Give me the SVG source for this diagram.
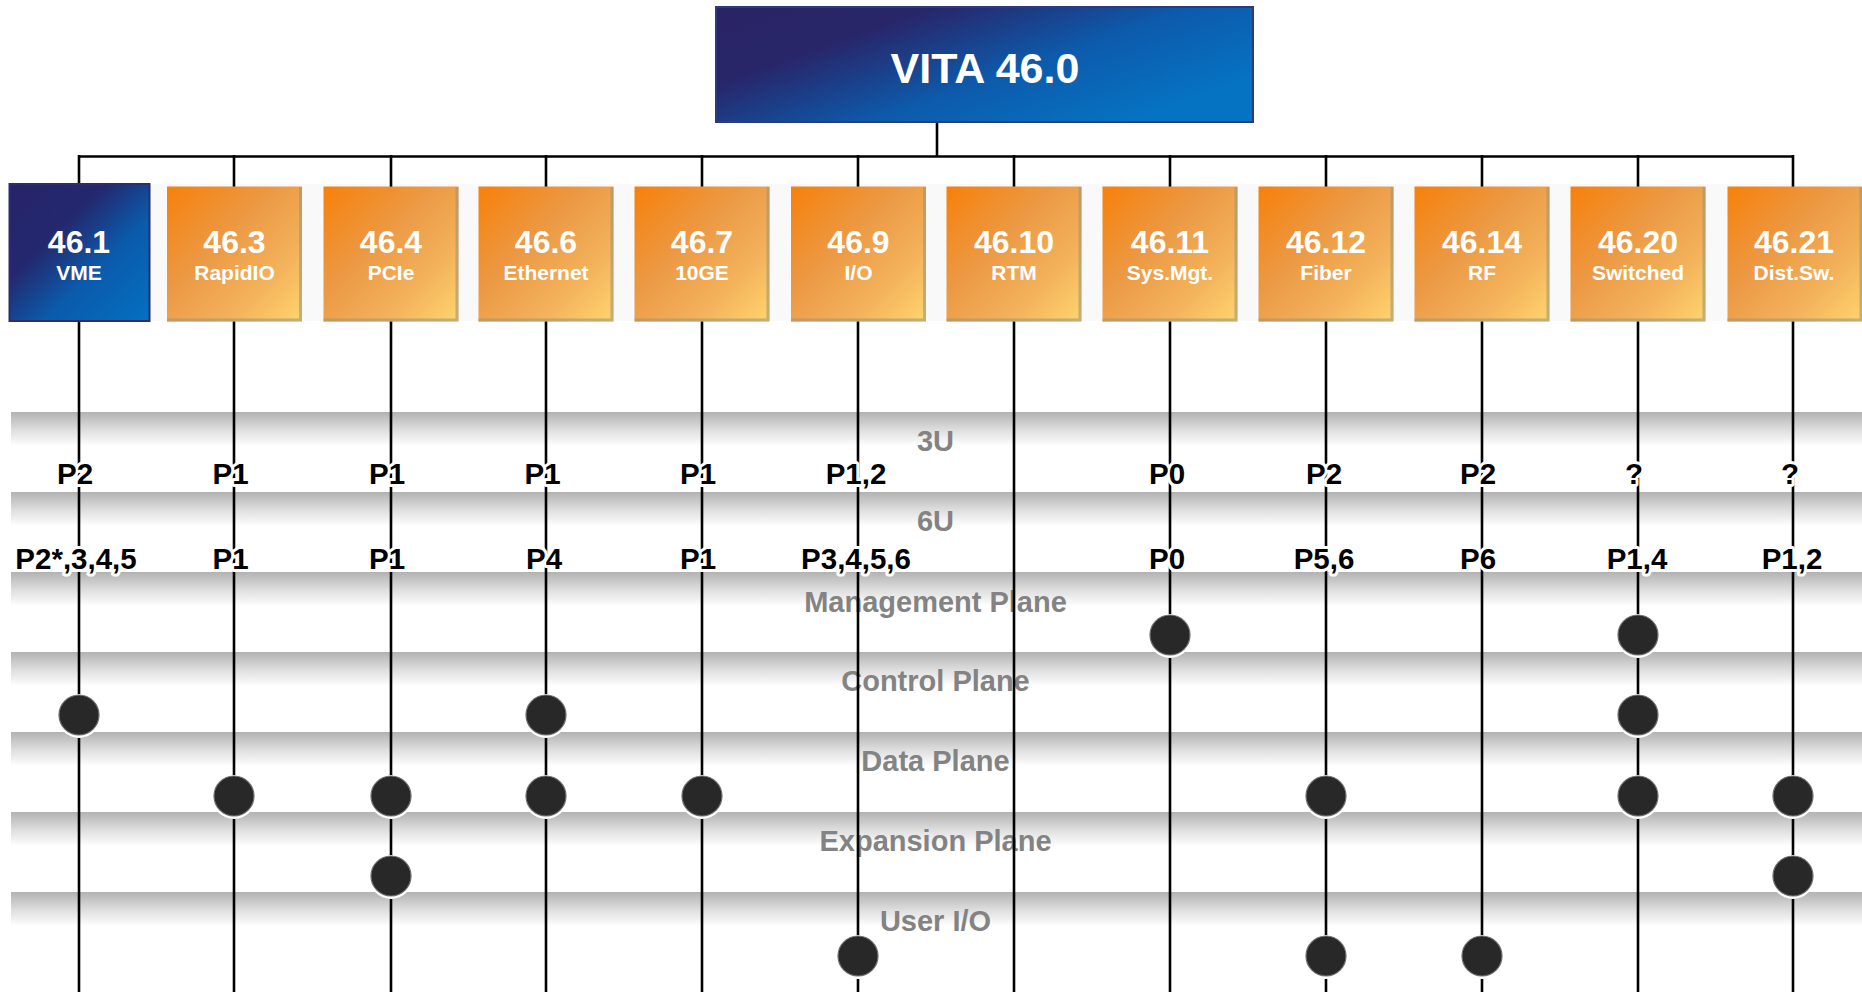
<svg xmlns="http://www.w3.org/2000/svg" width="1862" height="992" viewBox="0 0 1862 992">
<defs>
<linearGradient id="band" x1="0" y1="0" x2="0" y2="1">
<stop offset="0" stop-color="#b2b2b2"/>
<stop offset="0.5" stop-color="#dcdcdc"/>
<stop offset="1" stop-color="#ffffff"/>
</linearGradient>
<linearGradient id="orange" x1="0" y1="0" x2="1" y2="1">
<stop offset="0" stop-color="#f7800a"/>
<stop offset="0.4" stop-color="#ec9944"/>
<stop offset="0.72" stop-color="#f3b25b"/>
<stop offset="1" stop-color="#ffd56d"/>
</linearGradient>
<linearGradient id="blueBox" x1="0" y1="0" x2="1" y2="1">
<stop offset="0" stop-color="#27226a"/>
<stop offset="0.35" stop-color="#23296f"/>
<stop offset="0.62" stop-color="#0b5aab"/>
<stop offset="1" stop-color="#0470c2"/>
</linearGradient>
<linearGradient id="blueTitle" x1="0" y1="0" x2="1" y2="0.6">
<stop offset="0" stop-color="#2a2365"/>
<stop offset="0.3" stop-color="#28266a"/>
<stop offset="0.65" stop-color="#0d5aab"/>
<stop offset="1" stop-color="#0672c2"/>
</linearGradient>
</defs>
<style>
.band{fill:url(#band)}
.plane{font-family:"Liberation Sans",Arial,sans-serif;font-weight:bold;font-size:29px;fill:#838383;text-anchor:middle}
.pin{font-family:"Liberation Sans",Arial,sans-serif;font-weight:bold;font-size:29.5px;fill:#000;text-anchor:middle;stroke:#fff;stroke-width:6;stroke-linejoin:round;paint-order:stroke}
.wire{stroke:#000;stroke-width:2.6;fill:none}
.obox{fill:url(#orange)}
.edge{fill:none;stroke:#a09478;stroke-width:3;stroke-opacity:0.6}
.num{font-family:"Liberation Sans",Arial,sans-serif;font-weight:bold;font-size:32px;fill:#fff;text-anchor:middle}
.sub{font-family:"Liberation Sans",Arial,sans-serif;font-weight:bold;font-size:21px;fill:#fff;text-anchor:middle}
.halo{fill:#fff}
.dot{fill:#282828;stroke:#6e6e6e;stroke-width:1.2}
</style>
<rect width="1862" height="992" fill="#fff"/>
<g id="bands">
<rect class="band" x="11" y="412" width="1851" height="34"/>
<rect class="band" x="11" y="492" width="1851" height="34"/>
<rect class="band" x="11" y="572" width="1851" height="34"/>
<rect class="band" x="11" y="652" width="1851" height="34"/>
<rect class="band" x="11" y="732" width="1851" height="34"/>
<rect class="band" x="11" y="812" width="1851" height="34"/>
<rect class="band" x="11" y="892" width="1851" height="34"/>
</g>
<g id="plane-labels">
<text class="plane" x="935.5" y="451">3U</text>
<text class="plane" x="935.5" y="531">6U</text>
<text class="plane" x="935.5" y="611.5">Management Plane</text>
<text class="plane" x="935.5" y="691">Control Plane</text>
<text class="plane" x="935.5" y="771">Data Plane</text>
<text class="plane" x="935.5" y="851">Expansion Plane</text>
<text class="plane" x="935.5" y="931">User I/O</text>
</g>
<rect x="9" y="184" width="1853" height="137" fill="#f9f9f9"/>
<g id="connectors">
<line class="wire" x1="937" y1="122" x2="937" y2="157"/>
<line class="wire" x1="78" y1="156.5" x2="1794" y2="156.5" stroke-width="3"/>
<line class="wire" x1="79" y1="155" x2="79" y2="992"/>
<line class="wire" x1="234" y1="155" x2="234" y2="992"/>
<line class="wire" x1="391" y1="155" x2="391" y2="992"/>
<line class="wire" x1="546" y1="155" x2="546" y2="992"/>
<line class="wire" x1="702" y1="155" x2="702" y2="992"/>
<line class="wire" x1="858" y1="155" x2="858" y2="992"/>
<line class="wire" x1="1014" y1="155" x2="1014" y2="992"/>
<line class="wire" x1="1170" y1="155" x2="1170" y2="992"/>
<line class="wire" x1="1326" y1="155" x2="1326" y2="992"/>
<line class="wire" x1="1482" y1="155" x2="1482" y2="992"/>
<line class="wire" x1="1638" y1="155" x2="1638" y2="992"/>
<line class="wire" x1="1793" y1="155" x2="1793" y2="992"/>
</g>
<g id="vita-46-0">
<rect x="716" y="7" width="537" height="115" fill="url(#blueTitle)" stroke="#2c3a7e" stroke-width="2"/>
<text x="985" y="83" font-family="Liberation Sans, Arial, sans-serif" font-weight="bold" font-size="43" fill="#fff" text-anchor="middle">VITA 46.0</text>
</g>
<g id="vita-46-1">
<rect x="9.5" y="184" width="140" height="137" fill="url(#blueBox)" stroke="#2b2d6c" stroke-width="2"/>
<text class="num" x="79" y="253">46.1</text>
<text class="sub" x="79" y="280">VME</text>
</g>
<g id="vita-46-3">
<rect class="obox" x="167" y="186.5" width="135" height="135"/>
<path class="edge" d="M300.5 187V320H167"/>
<text class="num" x="234.5" y="253">46.3</text>
<text class="sub" x="234.5" y="280">RapidIO</text>
</g>
<g id="vita-46-4">
<rect class="obox" x="323.5" y="186.5" width="135" height="135"/>
<path class="edge" d="M457 187V320H323.5"/>
<text class="num" x="391" y="253">46.4</text>
<text class="sub" x="391" y="280">PCIe</text>
</g>
<g id="vita-46-6">
<rect class="obox" x="478.5" y="186.5" width="135" height="135"/>
<path class="edge" d="M612 187V320H478.5"/>
<text class="num" x="546" y="253">46.6</text>
<text class="sub" x="546" y="280">Ethernet</text>
</g>
<g id="vita-46-7">
<rect class="obox" x="634.5" y="186.5" width="135" height="135"/>
<path class="edge" d="M768 187V320H634.5"/>
<text class="num" x="702" y="253">46.7</text>
<text class="sub" x="702" y="280">10GE</text>
</g>
<g id="vita-46-9">
<rect class="obox" x="791" y="186.5" width="135" height="135"/>
<path class="edge" d="M924.5 187V320H791"/>
<text class="num" x="858.5" y="253">46.9</text>
<text class="sub" x="858.5" y="280">I/O</text>
</g>
<g id="vita-46-10">
<rect class="obox" x="946.5" y="186.5" width="135" height="135"/>
<path class="edge" d="M1080 187V320H946.5"/>
<text class="num" x="1014" y="253">46.10</text>
<text class="sub" x="1014" y="280">RTM</text>
</g>
<g id="vita-46-11">
<rect class="obox" x="1102.5" y="186.5" width="135" height="135"/>
<path class="edge" d="M1236 187V320H1102.5"/>
<text class="num" x="1170" y="253">46.11</text>
<text class="sub" x="1170" y="280">Sys.Mgt.</text>
</g>
<g id="vita-46-12">
<rect class="obox" x="1258.5" y="186.5" width="135" height="135"/>
<path class="edge" d="M1392 187V320H1258.5"/>
<text class="num" x="1326" y="253">46.12</text>
<text class="sub" x="1326" y="280">Fiber</text>
</g>
<g id="vita-46-14">
<rect class="obox" x="1414.5" y="186.5" width="135" height="135"/>
<path class="edge" d="M1548 187V320H1414.5"/>
<text class="num" x="1482" y="253">46.14</text>
<text class="sub" x="1482" y="280">RF</text>
</g>
<g id="vita-46-20">
<rect class="obox" x="1570.5" y="186.5" width="135" height="135"/>
<path class="edge" d="M1704 187V320H1570.5"/>
<text class="num" x="1638" y="253">46.20</text>
<text class="sub" x="1638" y="280">Switched</text>
</g>
<g id="vita-46-21">
<rect class="obox" x="1727.5" y="186.5" width="135" height="135"/>
<path class="edge" d="M1861 187V320H1727.5"/>
<text class="num" x="1794" y="253">46.21</text>
<text class="sub" x="1794" y="280">Dist.Sw.</text>
</g>
<g id="pin-labels-3u">
<text class="pin" x="75" y="484">P2</text>
<text class="pin" x="230.5" y="484">P1</text>
<text class="pin" x="387" y="484">P1</text>
<text class="pin" x="542.5" y="484">P1</text>
<text class="pin" x="698" y="484">P1</text>
<text class="pin" x="856" y="484">P1,2</text>
<text class="pin" x="1167" y="484">P0</text>
<text class="pin" x="1324" y="484">P2</text>
<text class="pin" x="1478" y="484">P2</text>
<text class="pin" x="1634" y="484">?</text>
<text class="pin" x="1790" y="484">?</text>
</g>
<g id="pin-labels-6u">
<text class="pin" x="76" y="569">P2*,3,4,5</text>
<text class="pin" x="230.5" y="569">P1</text>
<text class="pin" x="387" y="569">P1</text>
<text class="pin" x="544" y="569">P4</text>
<text class="pin" x="698" y="569">P1</text>
<text class="pin" x="856" y="569">P3,4,5,6</text>
<text class="pin" x="1167" y="569">P0</text>
<text class="pin" x="1324" y="569">P5,6</text>
<text class="pin" x="1478" y="569">P6</text>
<text class="pin" x="1637" y="569">P1,4</text>
<text class="pin" x="1792" y="569">P1,2</text>
</g>
<g id="dots">
<g id="dot-mgmt-46-11"><circle class="halo" cx="1170" cy="636" r="22"/><circle class="dot" cx="1170" cy="635" r="20"/></g>
<g id="dot-mgmt-46-20"><circle class="halo" cx="1638" cy="636" r="22"/><circle class="dot" cx="1638" cy="635" r="20"/></g>
<g id="dot-ctrl-46-1"><circle class="halo" cx="79" cy="716" r="22"/><circle class="dot" cx="79" cy="715" r="20"/></g>
<g id="dot-ctrl-46-6"><circle class="halo" cx="546" cy="716" r="22"/><circle class="dot" cx="546" cy="715" r="20"/></g>
<g id="dot-ctrl-46-20"><circle class="halo" cx="1638" cy="716" r="22"/><circle class="dot" cx="1638" cy="715" r="20"/></g>
<g id="dot-data-46-3"><circle class="halo" cx="234" cy="797" r="22"/><circle class="dot" cx="234" cy="796" r="20"/></g>
<g id="dot-data-46-4"><circle class="halo" cx="391" cy="797" r="22"/><circle class="dot" cx="391" cy="796" r="20"/></g>
<g id="dot-data-46-6"><circle class="halo" cx="546" cy="797" r="22"/><circle class="dot" cx="546" cy="796" r="20"/></g>
<g id="dot-data-46-7"><circle class="halo" cx="702" cy="797" r="22"/><circle class="dot" cx="702" cy="796" r="20"/></g>
<g id="dot-data-46-12"><circle class="halo" cx="1326" cy="797" r="22"/><circle class="dot" cx="1326" cy="796" r="20"/></g>
<g id="dot-data-46-20"><circle class="halo" cx="1638" cy="797" r="22"/><circle class="dot" cx="1638" cy="796" r="20"/></g>
<g id="dot-data-46-21"><circle class="halo" cx="1793" cy="797" r="22"/><circle class="dot" cx="1793" cy="796" r="20"/></g>
<g id="dot-exp-46-4"><circle class="halo" cx="391" cy="877" r="22"/><circle class="dot" cx="391" cy="876" r="20"/></g>
<g id="dot-exp-46-21"><circle class="halo" cx="1793" cy="877" r="22"/><circle class="dot" cx="1793" cy="876" r="20"/></g>
<g id="dot-uio-46-9"><circle class="halo" cx="858" cy="957" r="22"/><circle class="dot" cx="858" cy="956" r="20"/></g>
<g id="dot-uio-46-12"><circle class="halo" cx="1326" cy="957" r="22"/><circle class="dot" cx="1326" cy="956" r="20"/></g>
<g id="dot-uio-46-14"><circle class="halo" cx="1482" cy="957" r="22"/><circle class="dot" cx="1482" cy="956" r="20"/></g>
</g>
</svg>
